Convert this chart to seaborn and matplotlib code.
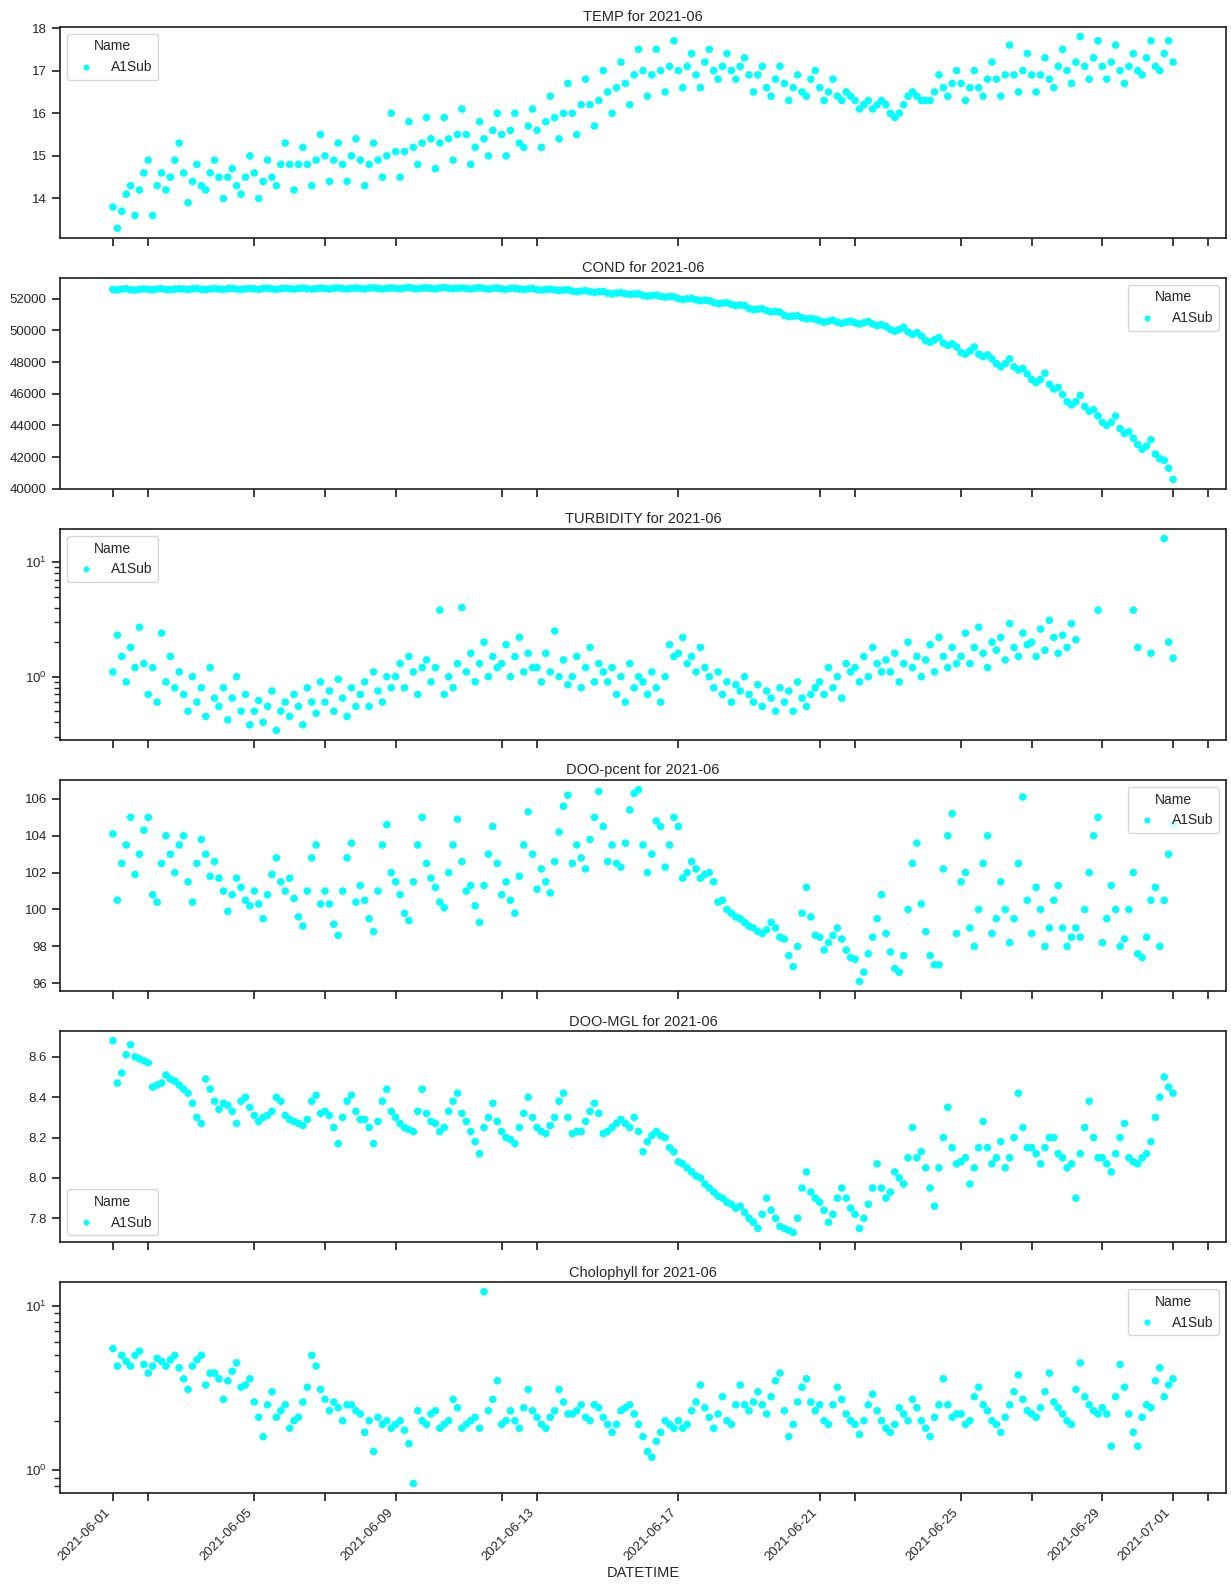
import matplotlib
matplotlib.use("Agg")
import numpy as np
import pandas as pd
import seaborn as sns
import matplotlib.pyplot as plt
import matplotlib.dates as mdates

nan = np.nan

# ---------------- data (3-hourly readings, 2021-06-01 00:00 .. 2021-07-01 00:00) ----------------
temp = [
    13.8, 13.3, 13.7, 14.1, 14.3, 13.6, 14.2, 14.6,
    14.9, 13.6, 14.3, 14.6, 14.2, 14.5, 14.9, 15.3,
    14.6, 13.9, 14.4, 14.8, 14.3, 14.2, 14.6, 14.9,
    14.5, 14.0, 14.5, 14.7, 14.3, 14.1, 14.5, 15.0,
    14.6, 14.0, 14.4, 14.9, 14.5, 14.3, 14.8, 15.3,
    14.8, 14.2, 14.8, 15.2, 14.8, 14.3, 14.9, 15.5,
    15.0, 14.4, 14.9, 15.3, 14.8, 14.4, 15.0, 15.4,
    14.9, 14.3, 14.8, 15.3, 14.9, 14.5, 15.0, 16.0,
    15.1, 14.5, 15.1, 15.8, 15.2, 14.8, 15.3, 15.9,
    15.4, 14.7, 15.3, 15.9, 15.4, 14.9, 15.5, 16.1,
    15.5, 14.8, 15.2, 15.8, 15.4, 15.0, 15.6, 16.0,
    15.5, 15.0, 15.6, 16.0, 15.3, 15.2, 15.7, 16.1,
    15.6, 15.2, 15.8, 16.4, 15.9, 15.4, 16.0, 16.7,
    16.0, 15.5, 16.2, 16.8, 16.2, 15.7, 16.3, 17.0,
    16.5, 16.0, 16.6, 17.2, 16.7, 16.2, 16.9, 17.5,
    17.0, 16.4, 16.9, 17.5, 17.0, 16.5, 17.1, 17.7,
    17.0, 16.6, 17.1, 17.4, 16.9, 16.6, 17.2, 17.5,
    17.0, 16.8, 17.1, 17.4, 17.0, 16.8, 17.1, 17.3,
    16.9, 16.5, 16.9, 17.1, 16.6, 16.4, 16.8, 17.1,
    16.7, 16.3, 16.6, 16.9, 16.5, 16.4, 16.8, 17.0,
    16.6, 16.3, 16.5, 16.8, 16.4, 16.3, 16.5, 16.4,
    16.3, 16.1, 16.2, 16.3, 16.1, 16.2, 16.3, 16.2,
    16.0, 15.9, 16.0, 16.2, 16.4, 16.5, 16.4, 16.3,
    16.3, 16.3, 16.5, 16.9, 16.6, 16.4, 16.7, 17.0,
    16.7, 16.3, 16.6, 17.0, 16.6, 16.4, 16.8, 17.2,
    16.8, 16.4, 16.9, 17.6, 16.9, 16.5, 17.0, 17.4,
    16.9, 16.5, 16.9, 17.3, 16.8, 16.6, 17.1, 17.5,
    17.0, 16.7, 17.2, 17.8, 17.1, 16.8, 17.3, 17.7,
    17.1, 16.8, 17.2, 17.6, 17.0, 16.7, 17.1, 17.4,
    17.0, 16.9, 17.3, 17.7, 17.1, 17.0, 17.4, 17.7,
    17.2,
]

cond = [
    52580, 52550, 52600, 52620, 52560, 52540, 52590, 52610,
    52590, 52560, 52610, 52630, 52580, 52560, 52600, 52620,
    52600, 52570, 52620, 52640, 52590, 52570, 52610, 52630,
    52610, 52580, 52630, 52650, 52600, 52580, 52620, 52640,
    52620, 52590, 52640, 52660, 52610, 52590, 52630, 52650,
    52630, 52600, 52650, 52670, 52620, 52600, 52640, 52660,
    52640, 52610, 52660, 52680, 52630, 52610, 52650, 52670,
    52640, 52610, 52660, 52690, 52640, 52610, 52650, 52680,
    52650, 52620, 52670, 52700, 52650, 52620, 52660, 52690,
    52650, 52620, 52670, 52700, 52650, 52620, 52660, 52680,
    52640, 52610, 52660, 52690, 52640, 52610, 52650, 52670,
    52620, 52590, 52640, 52660, 52610, 52580, 52620, 52640,
    52570, 52540, 52580, 52600, 52550, 52510, 52550, 52560,
    52480, 52440, 52480, 52500, 52440, 52400, 52440, 52450,
    52350, 52310, 52350, 52370, 52310, 52270, 52300, 52310,
    52200, 52160, 52200, 52220, 52150, 52100, 52130, 52120,
    52000, 51950, 51990, 52010, 51930, 51870, 51900, 51880,
    51750, 51680, 51720, 51740, 51640, 51570, 51600, 51570,
    51380, 51300, 51340, 51360, 51240, 51170, 51200, 51150,
    50950, 50860, 50900, 50920, 50800, 50720, 50750, 50700,
    50600, 50520, 50580, 50640, 50520, 50450, 50520, 50580,
    50480, 50400, 50480, 50560, 50400, 50300, 50360, 50250,
    50050, 49950, 50050, 50200, 49900, 49750, 49850, 49650,
    49350, 49250, 49400, 49550, 49200, 49050, 49150, 48950,
    48600, 48500, 48700, 48950, 48500, 48350, 48450, 48200,
    47900, 47700, 47900, 48200, 47700, 47500, 47600, 47250,
    46900, 46700, 46900, 47300, 46600, 46300, 46400, 45950,
    45500, 45300, 45500, 45900, 45200, 44900, 45000, 44600,
    44200, 44000, 44200, 44600, 43800, 43500, 43600, 43200,
    42800, 42500, 42700, 43100, 42200, 41900, 41800, 41300,
    40600,
]

turbidity = [
    1.1, 2.3, 1.5, 0.9, 1.8, 1.2, 2.7, 1.3,
    0.7, 1.2, 0.6, 2.4, 0.9, 1.5, 0.8, 1.1,
    0.7, 0.5, 1.0, 0.6, 0.8, 0.45, 1.2, 0.65,
    0.55, 0.8, 0.42, 0.65, 1.0, 0.5, 0.7, 0.38,
    0.5, 0.62, 0.4, 0.55, 0.75, 0.34, 0.5, 0.6,
    0.45, 0.7, 0.55, 0.38, 0.8, 0.6, 0.48, 0.9,
    0.6, 0.75, 0.5, 0.95, 0.65, 0.45, 0.8, 0.55,
    0.7, 0.9, 0.55, 1.1, 0.75, 0.6, 1.0, 0.8,
    1.0, 1.3, 0.8, 1.5, 1.1, 0.7, 1.2, 1.4,
    0.9, 1.2, 3.8, 0.7, 1.0, 0.8, 1.3, 4.0,
    1.1, 1.6, 0.9, 1.3, 2.0, 1.0, 1.5, 1.2,
    1.3, 1.9, 1.0, 1.5, 2.2, 1.1, 1.6, 1.2,
    1.2, 0.9, 1.6, 1.1, 2.5, 1.0, 1.4, 0.85,
    1.0, 1.5, 0.8, 1.2, 1.8, 0.9, 1.3, 1.1,
    0.9, 1.2, 0.7, 1.0, 0.6, 1.3, 0.8, 1.0,
    0.9, 0.7, 1.1, 0.8, 0.6, 1.0, 1.9, 1.5,
    1.6, 2.2, 1.3, 1.5, 1.1, 1.8, 1.2, 1.0,
    0.8, 1.1, 0.7, 0.9, 0.6, 0.85, 0.75, 1.0,
    0.7, 0.6, 0.85, 0.55, 0.75, 0.65, 0.5, 0.8,
    0.6, 0.75, 0.5, 0.9, 0.65, 0.55, 0.7, 0.8,
    0.9, 0.7, 1.2, 0.8, 1.0, 0.65, 1.3, 1.1,
    1.2, 0.9, 1.5, 1.0, 1.8, 1.3, 1.1, 1.4,
    1.1, 1.6, 0.9, 1.3, 2.0, 1.2, 1.5, 1.0,
    1.4, 1.9, 1.1, 2.2, 1.5, 1.2, 1.8, 1.3,
    1.5, 2.4, 1.3, 1.8, 2.7, 1.6, 1.2, 2.0,
    1.7, 2.2, 1.4, 2.9, 1.8, 1.5, 2.4, 1.9,
    2.0, 1.5, 2.6, 1.7, 3.1, 2.2, 1.6, 2.3,
    1.8, 2.9, 2.1, nan, nan, nan, nan, 3.8,
    nan, nan, nan, nan, nan, nan, nan, 3.8,
    1.8, nan, nan, 1.6, nan, nan, 16.0, 2.0,
    1.45,
]

doo_pcent = [
    104.1, 100.5, 102.5, 103.5, 105.0, 101.9, 103.0, 104.3,
    105.0, 100.8, 100.4, 102.5, 104.0, 103.0, 102.0, 103.5,
    104.0, 101.5, 100.4, 102.5, 103.8, 103.0, 101.8, 102.6,
    101.7, 101.0, 99.9, 100.8, 101.7, 101.2, 100.5, 100.2,
    101.0, 100.3, 99.5, 100.8, 101.9, 102.8, 101.5, 101.0,
    101.7, 100.6, 99.6, 99.1, 101.0, 102.8, 103.5, 100.3,
    101.0, 100.3, 99.2, 98.6, 101.0, 102.8, 103.6, 100.4,
    101.3, 100.5, 99.5, 98.8, 101.0, 103.5, 104.6, 102.0,
    101.5, 100.8, 99.8, 99.4, 101.5, 103.5, 105.0, 102.5,
    101.7, 101.2, 100.4, 100.1, 102.0, 103.5, 104.9, 102.6,
    101.0, 101.3, 100.2, 99.3, 101.3, 103.0, 104.5, 102.5,
    100.8, 101.5, 100.5, 99.8, 101.8, 103.5, 105.3, 103.0,
    101.1, 102.2, 101.5, 100.9, 102.6, 104.2, 105.6, 106.2,
    102.5, 103.5, 102.8, 102.2, 103.8, 105.0, 106.4, 104.5,
    102.6, 103.5, 102.5, 102.3, 103.6, 105.4, 106.3, 106.5,
    103.5, 102.0, 103.0, 104.8, 104.5, 102.3, 103.5, 105.0,
    104.5, 101.7, 102.0, 102.6, 102.2, 101.7, 101.9, 102.0,
    101.5, 100.4, 100.5, 100.0, 99.8, 99.6, 99.5, 99.3,
    99.1, 99.0, 98.8, 98.7, 98.9, 99.3, 99.0, 98.5,
    98.4, 97.5, 96.9, 98.0, 99.8, 101.2, 99.6, 98.6,
    98.5, 97.8, 98.2, 98.6, 99.0, 98.4, 97.8, 97.4,
    97.3, 96.1, 96.6, 97.6, 98.5, 99.5, 100.8, 98.7,
    97.7, 96.8, 96.6, 97.5, 100.0, 102.5, 103.6, 100.3,
    98.8, 97.5, 97.0, 97.0, 102.2, 104.0, 105.2, 98.7,
    101.5, 102.0, 99.0, 98.0, 100.0, 102.5, 104.0, 98.7,
    99.5, 101.5, 100.0, 98.2, 99.5, 102.5, 106.1, 100.5,
    98.7, 101.2, 100.0, 98.0, 99.0, 100.5, 101.3, 99.0,
    98.0, 98.5, 99.0, 98.5, 100.0, 102.0, 104.0, 105.0,
    98.2, 99.5, 101.3, 100.0, 98.0, 98.4, 100.0, 102.0,
    97.6, 97.4, 98.5, 100.5, 101.2, 98.0, 100.5, 103.0,
    104.6,
]

doo_mgl = [
    8.68, 8.47, 8.52, 8.61, 8.66, 8.60, 8.59, 8.58,
    8.57, 8.45, 8.46, 8.47, 8.51, 8.49, 8.48, 8.46,
    8.44, 8.42, 8.37, 8.30, 8.27, 8.49, 8.44, 8.38,
    8.34, 8.37, 8.36, 8.33, 8.27, 8.38, 8.40, 8.35,
    8.31, 8.28, 8.30, 8.31, 8.33, 8.40, 8.38, 8.31,
    8.29, 8.28, 8.27, 8.26, 8.29, 8.38, 8.41, 8.32,
    8.33, 8.31, 8.25, 8.17, 8.30, 8.38, 8.41, 8.33,
    8.29, 8.29, 8.25, 8.17, 8.28, 8.38, 8.44, 8.33,
    8.30, 8.27, 8.25, 8.24, 8.23, 8.33, 8.44, 8.32,
    8.28, 8.27, 8.23, 8.25, 8.33, 8.38, 8.42, 8.32,
    8.28, 8.23, 8.18, 8.12, 8.25, 8.30, 8.37, 8.28,
    8.23, 8.20, 8.19, 8.17, 8.25, 8.32, 8.40, 8.30,
    8.25, 8.23, 8.22, 8.26, 8.30, 8.38, 8.42, 8.30,
    8.22, 8.23, 8.23, 8.28, 8.33, 8.37, 8.32, 8.22,
    8.23, 8.25, 8.27, 8.29, 8.27, 8.25, 8.30, 8.23,
    8.13, 8.18, 8.21, 8.23, 8.21, 8.20, 8.15, 8.13,
    8.08, 8.07, 8.05, 8.03, 8.01, 8.00, 7.97, 7.95,
    7.93, 7.91, 7.90, 7.88, 7.87, 7.85, 7.86, 7.83,
    7.80, 7.78, 7.75, 7.82, 7.90, 7.84, 7.80, 7.76,
    7.75, 7.74, 7.73, 7.80, 7.95, 8.03, 7.93, 7.90,
    7.88, 7.84, 7.78, 7.82, 7.90, 7.95, 7.90, 7.85,
    7.82, 7.75, 7.80, 7.87, 7.95, 8.07, 7.95, 7.90,
    7.93, 8.03, 8.00, 7.97, 8.10, 8.25, 8.10, 8.13,
    8.05, 7.95, 7.86, 8.05, 8.20, 8.35, 8.15, 8.07,
    8.08, 8.10, 7.97, 8.05, 8.15, 8.28, 8.15, 8.07,
    8.10, 8.18, 8.05, 8.10, 8.20, 8.42, 8.25, 8.15,
    8.15, 8.12, 8.07, 8.15, 8.20, 8.20, 8.12, 8.10,
    8.05, 8.07, 7.90, 8.12, 8.25, 8.38, 8.20, 8.10,
    8.10, 8.07, 8.03, 8.12, 8.20, 8.27, 8.10, 8.08,
    8.07, 8.10, 8.12, 8.18, 8.30, 8.40, 8.50, 8.45,
    8.42,
]

chlorophyll = [
    5.5, 4.3, 5.0, 4.6, 4.3, 5.0, 5.3, 4.4,
    3.9, 4.3, 4.8, 4.6, 4.3, 4.7, 5.0, 4.2,
    3.6, 3.1, 4.3, 4.7, 5.0, 3.3, 3.9, 3.9,
    3.6, 2.7, 3.5, 4.0, 4.5, 3.2, 3.3, 3.6,
    2.6, 2.1, 1.6, 2.5, 3.0, 2.1, 2.3, 2.5,
    1.8, 2.0, 2.1, 2.6, 3.2, 5.0, 4.3, 3.1,
    2.7, 2.3, 2.6, 2.4, 2.0, 2.5, 2.5, 2.3,
    2.2, 1.7, 2.0, 1.3, 2.1, 1.9, 2.0, 1.8,
    1.9, 2.0, 1.75, 1.45, 0.83, 2.3, 2.0, 1.9,
    2.2, 2.3, 1.8, 1.9, 2.0, 2.7, 2.4, 1.8,
    1.9, 2.0, 2.1, 1.8, 12.2, 2.3, 2.7, 3.5,
    1.9, 2.0, 2.3, 2.0, 1.8, 2.4, 3.1, 2.3,
    2.1, 1.9, 1.8, 2.1, 2.3, 3.1, 2.6, 2.2,
    2.2, 2.3, 2.5, 2.1, 2.0, 2.5, 2.4, 2.1,
    1.9, 1.7, 1.9, 2.3, 2.4, 2.5, 2.2, 1.9,
    1.6, 1.3, 1.2, 1.5, 1.7, 2.0, 1.9, 1.8,
    2.0, 1.8, 1.9, 2.3, 2.6, 3.3, 2.4, 2.1,
    1.8, 2.2, 2.8, 2.0, 1.9, 2.5, 3.3, 2.5,
    2.3, 2.6, 3.0, 2.5, 2.2, 2.8, 3.5, 3.9,
    2.3, 1.6, 1.9, 2.6, 3.2, 3.6, 2.6, 2.3,
    2.5, 2.0, 1.9, 2.5, 3.2, 2.7, 2.2, 2.0,
    1.9, 1.65, 2.0, 2.5, 2.9, 2.3, 2.0, 1.8,
    1.7, 1.9, 2.4, 2.2, 2.0, 2.7, 2.4, 2.0,
    1.8, 1.6, 2.1, 2.5, 3.6, 2.5, 2.1, 2.2,
    2.2, 1.9, 2.0, 2.8, 3.2, 2.5, 2.3, 2.0,
    1.9, 1.7, 2.1, 2.5, 3.0, 3.8, 2.7, 2.3,
    2.2, 2.1, 2.4, 3.0, 3.9, 2.6, 2.4, 2.2,
    2.0, 1.9, 3.1, 4.5, 2.8, 2.5, 2.3, 2.2,
    2.4, 2.2, 1.4, 2.8, 4.4, 3.2, 2.2, 1.7,
    1.4, 2.1, 2.5, 2.4, 3.5, 4.2, 2.8, 3.3,
    3.6,
]

variables = ["TEMP", "COND", "TURBIDITY", "DOO-pcent", "DOO-MGL", "Cholophyll"]
series = [temp, cond, turbidity, doo_pcent, doo_mgl, chlorophyll]
log_scale = [False, False, True, False, False, True]
legend_locs = ["upper left", "upper right", "upper left", "upper right", "lower left", "upper right"]
station = "A1Sub"
month = "2021-06"
times = pd.date_range("2021-06-01 00:00", periods=len(temp), freq="3h")

# ---------------- plotting ----------------
sns.set_theme(style="ticks")
plt.rcParams['font.family'] = ['Liberation Sans', 'DejaVu Sans']

fig, axes = plt.subplots(6, 1, figsize=(12.31, 15.85), dpi=100, sharex=True)
fig.subplots_adjust(left=0.0487, right=0.996, top=0.983, bottom=0.058, hspace=0.19)

for ax, var, vals, islog, loc in zip(axes, variables, series, log_scale, legend_locs):
    df = pd.DataFrame({"DATETIME": times, "value": vals, "Name": station})
    sns.scatterplot(data=df, x="DATETIME", y="value", hue="Name",
                    palette={station: "#00ffff"}, s=30, linewidth=0, ax=ax)
    if islog:
        ax.set_yscale("log")
    ax.set_title(f"{var} for {month}", fontsize=10.5, pad=4)
    ax.set_ylabel("")
    ax.set_xlabel("")
    ax.tick_params(axis="both", which="major", labelsize=9.5, length=6)
    ax.tick_params(axis="x", which="minor", length=6, width=1.25)
    sns.move_legend(ax, loc, title="Name", fontsize=10, title_fontsize=10,
                    frameon=True, markerscale=0.8)

ax = axes[-1]
ax.xaxis.set_major_locator(mdates.DayLocator(bymonthday=[1, 5, 9, 13, 17, 21, 25, 29]))
ax.xaxis.set_minor_locator(mdates.DayLocator(bymonthday=[2, 7, 12, 17, 22, 27]))
ax.xaxis.set_major_formatter(mdates.DateFormatter("%Y-%m-%d"))
ax.set_xlabel("DATETIME", fontsize=10.5, labelpad=2)
for lab in ax.get_xticklabels():
    lab.set_rotation(45)
    lab.set_ha("right")

fig.savefig("out.png", dpi=100)
